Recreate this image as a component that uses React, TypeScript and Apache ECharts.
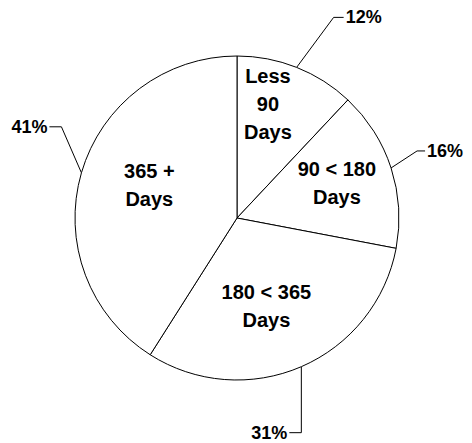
import React, { useEffect, useRef } from "react";
import * as echarts from "echarts";

const categories = ["Less\n90\nDays", "90 < 180\nDays", "180 < 365\nDays", "365 +\nDays"];
const values = [12, 16, 31, 41];

// layout tweaks (pixel offsets relative to library-computed label anchors)
const innerShift = [[0, -36], [20, -9], [-4, 11], [-7, -10]];
const outerElbow = [[37, -50], [26, -17], [0, 66], [-20, -46]];
const outerTail = [10, 8, -12, -12];

const FONT = 'Arial, "Liberation Sans", sans-serif';

export default function App() {
  const ref = useRef<HTMLDivElement>(null);
  useEffect(() => {
    document.body.style.margin = "0";
    const chart = echarts.init(ref.current!, null, { renderer: "svg" });
    const data = values.map((v, i) => ({ name: categories[i], value: v }));
    chart.setOption({
      animation: false,
      backgroundColor: "#ffffff",
      series: [
        {
          type: "pie",
          center: [237, 218],
          radius: 162,
          startAngle: 90,
          clockwise: true,
          avoidLabelOverlap: false,
          silent: true,
          data,
          itemStyle: { color: "#ffffff", borderColor: "#000000", borderWidth: 1 },
          label: {
            show: true,
            position: "inside",
            formatter: "{b}",
            color: "#000000",
            fontFamily: FONT,
            fontWeight: "bold",
            fontSize: 20,
            lineHeight: 28,
            align: "center",
          },
          labelLine: { show: false },
          labelLayout: (p: any) => {
            const s = innerShift[p.dataIndex];
            return { dx: s[0], dy: s[1] };
          },
          emphasis: { disabled: true },
        },
        {
          type: "pie",
          center: [237, 218],
          radius: 162,
          startAngle: 90,
          clockwise: true,
          avoidLabelOverlap: false,
          silent: true,
          data,
          itemStyle: { color: "rgba(0,0,0,0)", borderWidth: 0 },
          label: {
            show: true,
            position: "outside",
            formatter: "{c}%",
            color: "#000000",
            fontFamily: FONT,
            fontWeight: "bold",
            fontSize: 18,
          },
          labelLine: {
            show: true,
            length: 20,
            length2: 10,
            lineStyle: { color: "#000000", width: 1 },
          },
          labelLayout: (p: any) => {
            const i = p.dataIndex;
            const start = p.labelLinePoints[0];
            const elbow = [start[0] + outerElbow[i][0], start[1] + outerElbow[i][1]];
            const end = [elbow[0] + outerTail[i], elbow[1]];
            const right = outerTail[i] > 0;
            return {
              x: end[0] + (right ? 2 : -2),
              y: end[1],
              align: right ? "left" : "right",
              verticalAlign: "middle",
              labelLinePoints: [start, elbow, end],
            };
          },
          emphasis: { disabled: true },
        },
      ],
    });
    return () => chart.dispose();
  }, []);
  return <div ref={ref} style={{ width: 472, height: 443 }} />;
}
